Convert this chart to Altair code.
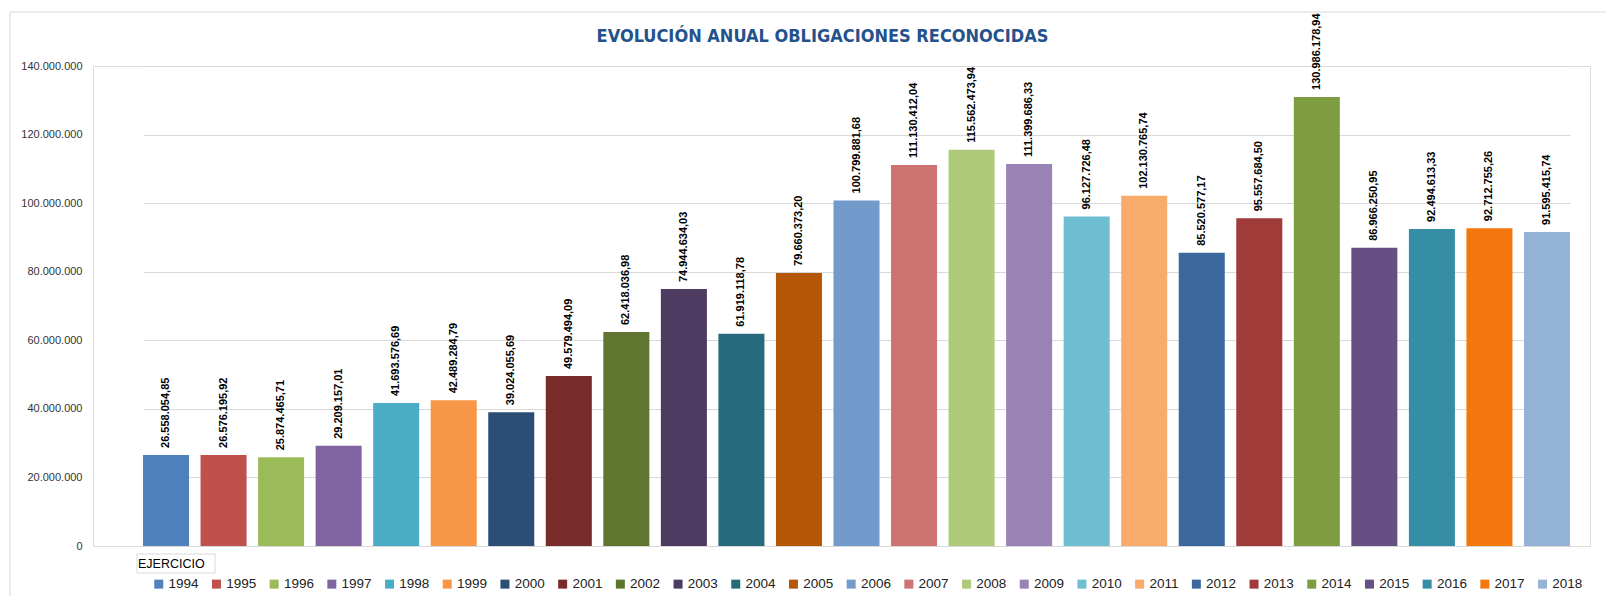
import altair as alt
import pandas as pd

years = [str(y) for y in range(1994, 2019)]
values = [
    26558054.85, 26576195.92, 25874465.71, 29209157.01, 41693576.69,
    42489284.79, 39024055.69, 49579494.09, 62418036.98, 74944634.03,
    61919118.78, 79660373.20, 100799881.68, 111130412.04, 115562473.94,
    111399686.33, 96127726.48, 102130765.74, 85520577.17, 95557684.50,
    130986178.94, 86966250.95, 92494613.33, 92712755.26, 91595415.74,
]
colors = [
    "#4F81BD", "#C0504D", "#9BBB59", "#8064A2", "#4BACC6", "#F79646",
    "#2C4D75", "#772C2A", "#5F7530", "#4D3B62", "#276A7C", "#B65708",
    "#729ACA", "#CD7371", "#AFC97A", "#9983B5", "#6FBDD1", "#F9AB6B",
    "#3A679C", "#9F3B38", "#7E9D40", "#664F83", "#358EA6", "#F4770E",
    "#95B3D7",
]
y_ticks = [0, 20000000, 40000000, 60000000, 80000000, 100000000, 120000000, 140000000]
title_text = "EVOLUCIÓN ANUAL OBLIGACIONES RECONOCIDAS"
field_button = "EJERCICIO"

df = pd.DataFrame({"year": years, "value": values})

W, H = 1497, 480

xscale = alt.Scale(domain=years, range=[50, 1477], paddingInner=0.2, paddingOuter=0)
yscale = alt.Scale(domain=[0, 140000000], nice=False)

base = alt.Chart(df)

bars = base.mark_bar().encode(
    x=alt.X("year:N", scale=xscale, axis=None, sort=years),
    y=alt.Y(
        "value:Q",
        scale=yscale,
        title=None,
        axis=alt.Axis(
            values=y_ticks, format=",.0f", grid=True, gridColor="#d9d9d9",
            domain=False, ticks=False, labelPadding=11, labelFont="Liberation Sans",
            labelFontSize=11, labelColor="#333333",
        ),
    ),
    color=alt.Color(
        "year:N",
        scale=alt.Scale(domain=years, range=colors),
        legend=alt.Legend(
            orient="none", legendX=59, legendY=511, direction="horizontal",
            columns=25, title=None, symbolType="square", symbolSize=81,
            symbolStrokeWidth=0, labelFont="Liberation Sans", labelFontSize=13.5,
            labelColor="#222222", labelOffset=3, columnPadding=10.7, padding=0,
        ),
    ),
)

labels = base.mark_text(
    angle=270, align="left", baseline="middle", dx=7,
    font="Liberation Sans", fontWeight="bold", fontSize=11, color="#000000",
).encode(
    x=alt.X("year:N", scale=xscale, sort=years),
    y=alt.Y("value:Q", scale=yscale),
    text=alt.Text("value:Q", format=",.2f"),
)

one = pd.DataFrame({"t": [field_button], "title": [title_text]})
border = alt.Chart(one).mark_rect(fill=None, stroke="#d9d9d9", strokeWidth=1).encode(
    x=alt.value(-83), x2=alt.value(1560), y=alt.value(-54), y2=alt.value(600)
)
btn_box = alt.Chart(one).mark_rect(fill="#ffffff", stroke="#d9d9d9", strokeWidth=1).encode(
    x=alt.value(44), x2=alt.value(122), y=alt.value(488), y2=alt.value(507)
)
btn_text = alt.Chart(one).mark_text(
    align="left", baseline="middle", font="Liberation Sans Narrow, Liberation Sans",
    fontSize=12.5, color="#000000"
).encode(x=alt.value(45), y=alt.value(498), text="t:N")
title_mark = alt.Chart(one).mark_text(
    align="center", baseline="middle",
    font="Liberation Sans Narrow, DejaVu Sans Condensed, Liberation Sans",
    fontSize=18, fontWeight="bold", color="#24528C",
).encode(x=alt.value(729.5), y=alt.value(-29), text="title:N")

chart = alt.layer(border, bars, labels, btn_box, btn_text, title_mark).properties(
    width=W,
    height=H,
    autosize=alt.AutoSizeParams(type="none"),
    padding={"left": 85, "top": 58, "right": 16, "bottom": 50},
).configure_view(stroke=None).configure(
    locale={"number": {"decimal": ",", "thousands": ".", "grouping": [3], "currency": ["", " €"]}}
)

chart.save("out.html", embed_options={"renderer": "svg", "actions": False})
